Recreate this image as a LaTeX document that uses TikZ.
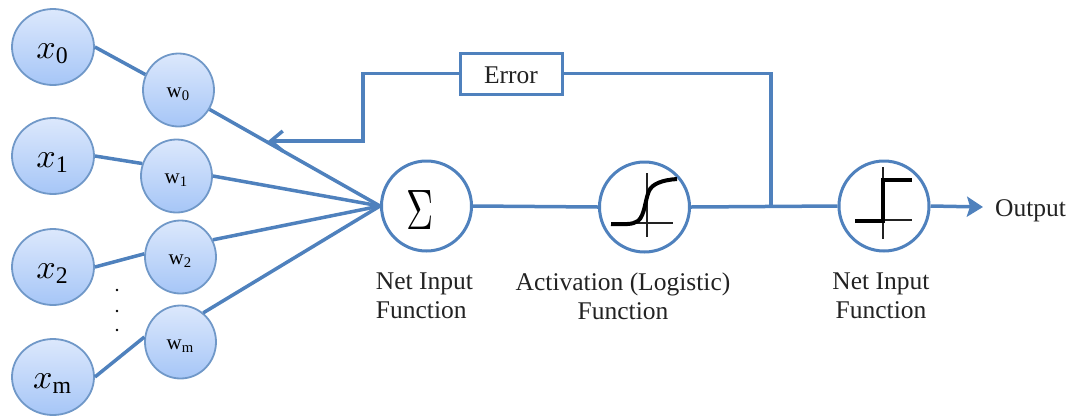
\documentclass[tikz,border=0pt]{standalone}
\usepackage{fontspec}
\setmainfont{Liberation Serif}
\usetikzlibrary{shapes.geometric,arrows.meta}
\definecolor{linkblue}{HTML}{4F81BD}
\definecolor{rimblue}{HTML}{7098C8}
\definecolor{topblue}{HTML}{DCE8FC}
\definecolor{botblue}{HTML}{A6C6F7}
\definecolor{inkgrey}{HTML}{222222}
\newcommand{\inlabel}[1]{\raisebox{-11pt}[0pt][0pt]{\scalebox{3.4}{$x_{\mathrm{#1}}$}}}
\newcommand{\wlabel}[1]{\raisebox{-7.5pt}[0pt][0pt]{\scalebox{2.1}{w$_{\mathrm{#1}}$}}}
\tikzset{
  ball/.style={ellipse,draw=rimblue,line width=1.8pt,top color=topblue,bottom color=botblue,inner sep=0pt,text=black},
  inball/.style={ball,minimum width=82pt,minimum height=76pt},
  wball/.style={ball,minimum width=71pt,minimum height=73pt},
  funcball/.style={circle,draw=linkblue,line width=3pt,fill=white,minimum size=90pt,inner sep=0pt},
  link/.style={draw=linkblue,line width=3.5pt},
  caption/.style={font=\fontsize{25.5}{29}\selectfont,text=inkgrey,inner sep=0pt},
  thinaxis/.style={draw=inkgrey,line width=1.6pt},
  thickcurve/.style={draw=black,line width=4pt},
}
\begin{document}
\begin{tikzpicture}[x=1pt,y=-1pt]
\useasboundingbox (0,0) rectangle (1074,416);
% inputs
\node[inball] (x0) at (53,47) {\inlabel{0}};
\node[inball] (x1) at (53,156) {\inlabel{1}};
\node[inball] (x2) at (53,267) {\inlabel{2}};
\node[inball] (xm) at (53,377) {\inlabel{m}};
% weights
\node[wball] (w0) at (178.5,90) {\wlabel{0}};
\node[wball] (w1) at (176.5,176) {\wlabel{1}};
\node[wball] (w2) at (180.5,257) {\wlabel{2}};
\node[wball] (wm) at (180.5,342) {\wlabel{m}};
% functions
\node[funcball] (sum) at (426.5,206) {};
\node[funcball] (act) at (644.5,207) {};
\node[funcball] (net) at (884,206) {};
\node[inner sep=0pt] (sigma) at (420,210) {\scalebox{3.75}[5.7]{$\Sigma$}};
% error box
\node[draw=linkblue,line width=3pt,minimum width=102pt,minimum height=41pt,inner sep=0pt,font=\fontsize{25.5}{28}\selectfont,text=inkgrey] (err) at (511,73.5) {\raisebox{-9.5pt}[0pt][0pt]{Error}};
% helpers
\coordinate (fbA) at (363,73.5);
\coordinate (fbB) at (363,141);
\coordinate (fbEnd) at (268,141);
\coordinate (junc) at (771,207);
\coordinate (top) at (771,73.5);
\coordinate (outEnd) at (983,207);
% connectors
\draw[link] (x0.east) -- (w0.155);
\draw[link] (x1.east) -- (w1.160);
\draw[link] (x2.east) -- (w2.175);
\draw[link] (xm.east) -- (wm.172);
\draw[link] (w0.-32) -- (sum.west);
\draw[link] (w1.east) -- (sum.west);
\draw[link] (w2.28) -- (sum.west);
\draw[link] (wm.52) -- (sum.west);
\draw[link] (sum.east) -- (act.west);
\draw[link] (act.east) -- (net.west);
\draw[link,-{Straight Barb[length=12pt,width=20pt]}] (err.west) -- (fbA) -- (fbB) -- (fbEnd);
\draw[link] (err.east) -- (top) -- (junc);
\draw[link,-{Stealth[length=16pt,width=20pt,inset=3pt]}] (net.east) -- (outEnd);
% logistic icon
\draw[thinaxis] (647,173) -- (647,237);
\draw[thinaxis] (611,223) -- (673,223);
\draw[thickcurve] (611,224) .. controls (625,224) and (632,225) .. (638,221) .. controls (645,215) and (645,200) .. (649,191) .. controls (652,184) and (662,180) .. (677,179);
% step icon
\draw[thinaxis] (883,167) -- (883,239);
\draw[thinaxis] (855,220) -- (912,220);
\draw[thickcurve] (855,221) -- (883,221) -- (883,180) -- (912,180);
% ellipsis dots
\fill[black] (117,290) circle (1.4pt);
\fill[black] (117,311) circle (1.4pt);
\fill[black] (117,330) circle (1.4pt);
% labels
\node[caption,align=left] (lab1) at (424.5,296) {Net Input\\Function};
\node[caption,align=center] (lab2) at (623,296) {Activation (Logistic)\\Function};
\node[caption,align=center] (lab3) at (881,296) {Net Input\\Function};
\node[caption,anchor=west] (outp) at (995,211) {Output};
\end{tikzpicture}
\end{document}
